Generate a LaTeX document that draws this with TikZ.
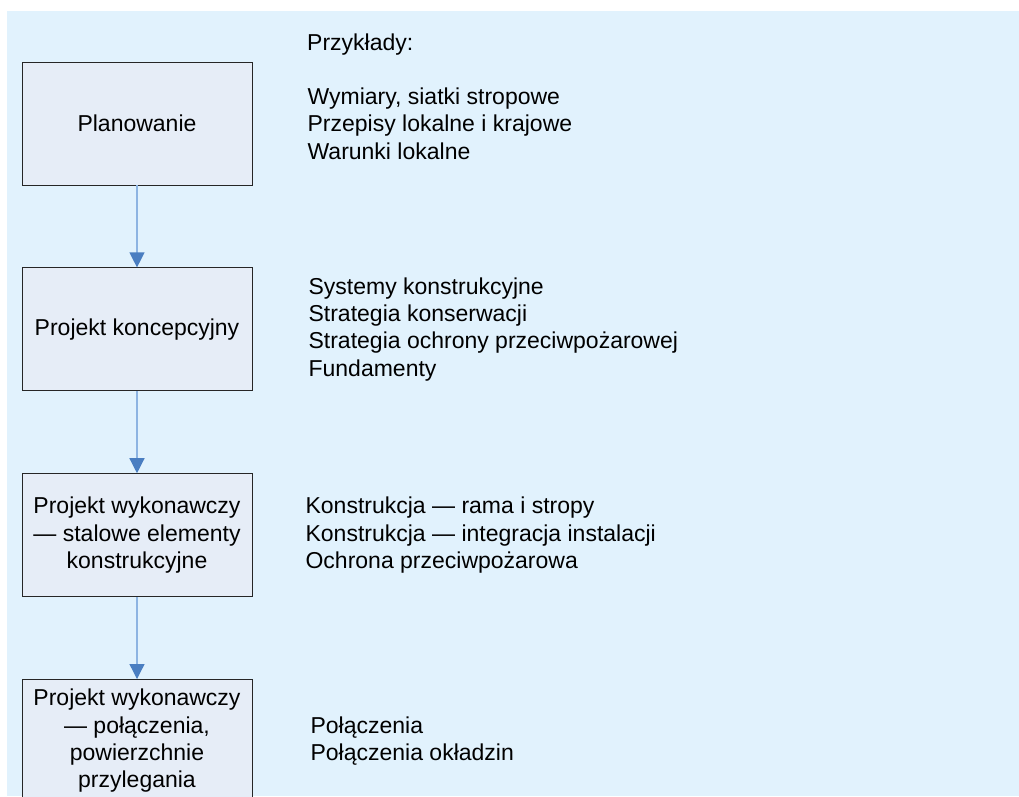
\documentclass[tikz,border=0pt]{standalone}
\usepackage{fontspec}
\setmainfont{Liberation Sans}
\usepackage{tikz}
\usetikzlibrary{positioning, arrows.meta}
\definecolor{bgblue}{RGB}{225,242,253}
\definecolor{boxfill}{RGB}{230,237,247}
\definecolor{linkline}{RGB}{141,180,226}
\definecolor{linkhead}{RGB}{74,126,193}
\tikzset{
	node distance=82pt, % gap between two phase boxes
	phase/.style={draw=black!85, line width=0.8pt, fill=boxfill, minimum width=230pt, minimum height=123pt, align=center, inner sep=2pt}, % the boxes on the left
	note/.style={align=left, inner sep=0pt}, % the examples on the right
	link/.style={draw=linkline, line width=1.3pt, -{Triangle[width=15pt,length=15pt,color=linkhead,fill=linkhead]}}, % blue arrows
}
\begin{document}
\begin{tikzpicture}[x=1pt, y=1pt, font=\fontsize{23}{27.3}\selectfont]
		\clip (0,0) rectangle (1019,-796);
		\fill[bgblue] (7,-11) rectangle (1019,-796);

		\node[phase] (p1) at (137,-123.5) {Planowanie};
		\node[phase, below=of p1] (p2) {Projekt koncepcyjny};
		\node[phase, below=of p2] (p3) {Projekt wykonawczy\\— stalowe elementy\\konstrukcyjne};
		\node[phase, below=of p3] (p4) {Projekt wykonawczy\\— połączenia,\\powierzchnie\\przylegania};

		\node[note, anchor=west] (hdr) at (307,-45) {Przykłady:};
		\node[note, right=55pt of p1] (t1) {Wymiary, siatki stropowe\\Przepisy lokalne i krajowe\\Warunki lokalne};
		\node[note, right=56pt of p2] (t2) {Systemy konstrukcyjne\\Strategia konserwacji\\Strategia ochrony przeciwpożarowej\\Fundamenty};
		\node[note, right=53pt of p3] (t3) {Konstrukcja — rama i stropy\\Konstrukcja — integracja instalacji\\Ochrona przeciwpożarowa};
		\node[note, right=58pt of p4] (t4) {Połączenia\\Połączenia okładzin};

		\foreach \x in {1,...,3}
		{
			\pgfmathtruncatemacro{\nxt}{\x + 1}
			\draw[link] (p\x) -- (p\nxt);
		}
	\end{tikzpicture}
\end{document}
